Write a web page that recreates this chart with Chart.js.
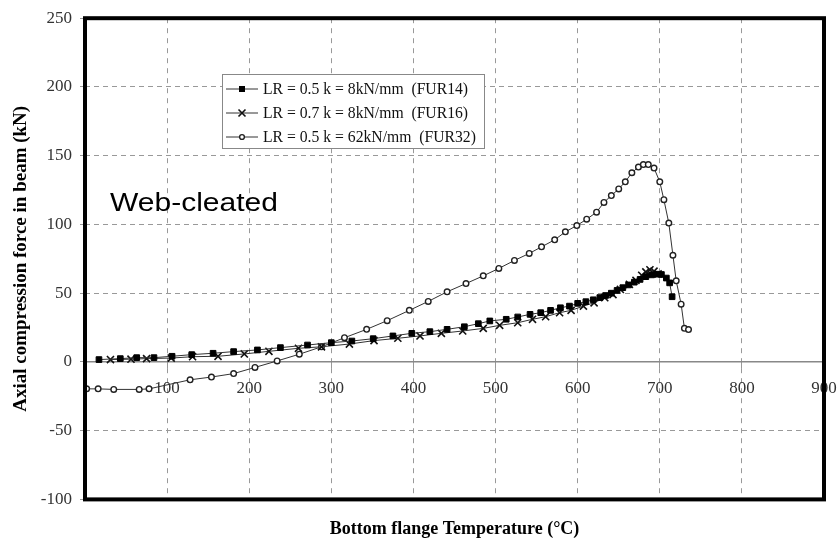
<!DOCTYPE html>
<html>
<head>
<meta charset="utf-8">
<script src="https://cdn.jsdelivr.net/npm/chart.js@4/dist/chart.umd.min.js"></script>
<style>
  html, body { margin: 0; padding: 0; background: #fff; }
  #wrap { width: 838px; height: 548px; }
</style>
</head>
<body>
<div id="wrap"><canvas id="forceChart" width="838" height="548"></canvas></div>
<script>
// LR = 0.5 k = 8kN/mm (FUR14)
const fur14Temp = [17, 43, 63, 84, 106, 130, 156, 181, 210, 238, 271, 300, 325, 351, 375, 398, 420, 441, 462, 479, 493, 513, 527, 542, 555, 567, 579, 590, 600, 610, 619, 627, 634, 641, 648, 655, 662, 669, 676, 683, 690, 697, 702, 708, 712, 715];
const fur14Force = [1.7, 2.4, 3.1, 3.1, 4.1, 5.3, 6.3, 7.5, 8.7, 10.4, 12.3, 14, 15.2, 16.9, 18.9, 20.8, 22, 23.7, 25.6, 27.8, 29.8, 31, 32.7, 34.6, 35.8, 37.5, 39.4, 40.6, 42.6, 43.8, 45.2, 46.8, 48.3, 50, 52, 54, 56, 58, 60, 62, 63.3, 63.8, 63.6, 61, 57.5, 47.4];

// LR = 0.7 k = 8kN/mm (FUR16)
const fur16Temp = [31, 56, 75, 105, 131, 162, 194, 224, 260, 288, 322, 352, 381, 408, 434, 460, 485, 505, 527, 545, 561, 578, 592, 607, 620, 633, 643, 652, 663, 671, 678, 683, 688, 693, 698];
const fur16Force = [1.7, 2, 2.4, 2.8, 3.8, 4.1, 5.8, 7.7, 9.9, 11, 13, 15.5, 17.2, 18.9, 20.8, 22.5, 24.4, 26.6, 28.5, 31, 32.9, 35.8, 37.5, 40.6, 43, 46.7, 49, 52.7, 56.4, 59.3, 63, 65.5, 67, 66, 64];

// LR = 0.5 k = 62kN/mm (FUR32)
const fur32Temp = [0, 2, 16, 35, 66, 78, 128, 154, 181, 207, 234, 261, 288, 316, 343, 368, 395, 418, 441, 464, 485, 504, 523, 541, 556, 572, 585, 599, 611, 623, 632, 641, 650, 658, 666, 674, 680, 686, 693, 700, 705, 711, 716, 720, 726, 730, 735];
const fur32Force = [-19.6, -19.6, -19.6, -20, -20, -19.6, -13, -11, -8.5, -4, 0.7, 5.6, 11, 17.6, 23.7, 30, 37.5, 44, 51, 57, 62.6, 68, 73.8, 78.9, 83.7, 88.8, 94.6, 99.2, 103.8, 108.9, 116, 121, 125.8, 131, 137.6, 141.7, 143.5, 143.5, 141, 131, 118, 101, 77.6, 59, 42, 24.4, 23.5];

const seriesLabels = ['LR = 0.5 k = 8kN/mm  (FUR14)', 'LR = 0.7 k = 8kN/mm  (FUR16)', 'LR = 0.5 k = 62kN/mm  (FUR32)'];
const xTicks = [0, 100, 200, 300, 400, 500, 600, 700, 800, 900];
const yTicks = [-100, -50, 0, 50, 100, 150, 200, 250];

const serif = '"Liberation Serif", "Times New Roman", serif';

const toPoints = (xs, ys) => xs.map((x, i) => ({ x: x, y: ys[i] }));

const markerStyles = [
  { pointStyle: 'rect', pointRadius: 4, pointBackgroundColor: '#000', pointBorderColor: '#000', pointBorderWidth: 1 },
  { pointStyle: 'crossRot', pointRadius: 5, pointBackgroundColor: '#000', pointBorderColor: '#111', pointBorderWidth: 1.6 },
  { pointStyle: 'circle', pointRadius: 2.8, pointBackgroundColor: '#fff', pointBorderColor: '#222', pointBorderWidth: 1.4 },
];

// frame, legend box and the "Web-cleated" note
const decorPlugin = {
  id: 'decor',
  afterDraw(chart) {
    const { ctx, chartArea: a } = chart;
    ctx.save();

    // legend
    const lx = 222, ly = 74, lw = 262, lh = 74;
    ctx.fillStyle = '#fff';
    ctx.fillRect(lx, ly, lw, lh);
    ctx.strokeStyle = '#888';
    ctx.lineWidth = 1;
    ctx.strokeRect(lx + 0.5, ly + 0.5, lw, lh);
    seriesLabels.forEach((label, i) => {
      const y = ly + 15 + i * 24;
      ctx.strokeStyle = '#333';
      ctx.lineWidth = 1;
      ctx.beginPath();
      ctx.moveTo(lx + 4, y);
      ctx.lineTo(lx + 36, y);
      ctx.stroke();
      const m = markerStyles[i];
      ctx.fillStyle = m.pointBackgroundColor;
      ctx.strokeStyle = m.pointBorderColor;
      ctx.lineWidth = m.pointBorderWidth;
      ctx.beginPath();
      if (m.pointStyle === 'rect') {
        ctx.rect(lx + 17, y - 3, 6, 6);
        ctx.fill();
      } else if (m.pointStyle === 'crossRot') {
        ctx.moveTo(lx + 16.5, y - 3.5); ctx.lineTo(lx + 23.5, y + 3.5);
        ctx.moveTo(lx + 16.5, y + 3.5); ctx.lineTo(lx + 23.5, y - 3.5);
        ctx.stroke();
      } else {
        ctx.arc(lx + 20, y, 2.4, 0, Math.PI * 2);
        ctx.fill();
        ctx.stroke();
      }
      ctx.fillStyle = '#111';
      ctx.font = '15.7px ' + serif;
      ctx.textBaseline = 'middle';
      ctx.textAlign = 'left';
      ctx.fillText(label, lx + 41, y + 1);
    });

    // note
    ctx.save();
    ctx.translate(110, 211);
    ctx.scale(1.2, 1);
    ctx.fillStyle = '#000';
    ctx.font = '25px "Liberation Sans", Arial, sans-serif';
    ctx.textBaseline = 'alphabetic';
    ctx.fillText('Web-cleated', 0, 0);
    ctx.restore();

    // thick frame round the plot
    ctx.strokeStyle = '#000';
    ctx.lineWidth = 4;
    ctx.strokeRect(a.left, a.top, a.right - a.left, a.bottom - a.top);
    ctx.restore();
  },
};

new Chart(document.getElementById('forceChart'), {
  type: 'line',
  data: {
    datasets: [
      { label: seriesLabels[0], data: toPoints(fur14Temp, fur14Force), borderColor: '#333', borderWidth: 1, ...markerStyles[0] },
      { label: seriesLabels[1], data: toPoints(fur16Temp, fur16Force), borderColor: '#333', borderWidth: 1, ...markerStyles[1] },
      { label: seriesLabels[2], data: toPoints(fur32Temp, fur32Force), borderColor: '#333', borderWidth: 1, ...markerStyles[2] },
    ],
  },
  options: {
    responsive: false,
    animation: false,
    layout: { padding: { top: 17, right: 14, left: 0, bottom: 0 } },
    plugins: {
      legend: { display: false },
      tooltip: { enabled: false },
      title: {
        display: true,
        position: 'bottom',
        fullSize: false,
        text: 'Bottom flange Temperature (°C)',
        color: '#000',
        font: { family: serif, size: 18, weight: 'bold' },
        padding: { top: 19, bottom: 8 },
      },
    },
    scales: {
      x: {
        type: 'linear',
        position: { y: 0 },
        min: 0,
        max: 900,
        afterBuildTicks: (scale) => { scale.ticks = xTicks.map((v) => ({ value: v })); },
        afterFit: (scale) => { scale.paddingLeft = 0; scale.paddingRight = 0; },
        ticks: {
          autoSkip: false,
          maxRotation: 0,
          color: '#333',
          padding: 10,
          font: { family: serif, size: 17 },
          callback: (v) => (v === 0 ? '' : v),
        },
        grid: { color: '#999', lineWidth: 1, tickLength: 6, tickColor: '#999' },
        border: { display: true, color: '#888', width: 1.5, dash: [5, 5] },
      },
      y: {
        type: 'linear',
        position: 'left',
        min: -100,
        max: 250,
        afterBuildTicks: (scale) => { scale.ticks = yTicks.map((v) => ({ value: v })); },
        afterFit: (scale) => { scale.width = 85; },
        ticks: {
          color: '#333',
          padding: 8,
          font: { family: serif, size: 17 },
        },
        grid: {
          color: (c) => (c.tick && c.tick.value === 0 ? 'rgba(0,0,0,0)' : '#999'),
          lineWidth: 1,
          tickLength: 5,
          tickColor: '#999',
        },
        border: { display: false, dash: [5, 4] },
        title: {
          display: true,
          text: 'Axial compression force in beam (kN)',
          color: '#000',
          font: { family: serif, size: 19, weight: 'bold' },
          padding: { top: 10, bottom: 0 },
        },
      },
    },
  },
  plugins: [decorPlugin],
});
</script>
</body>
</html>
